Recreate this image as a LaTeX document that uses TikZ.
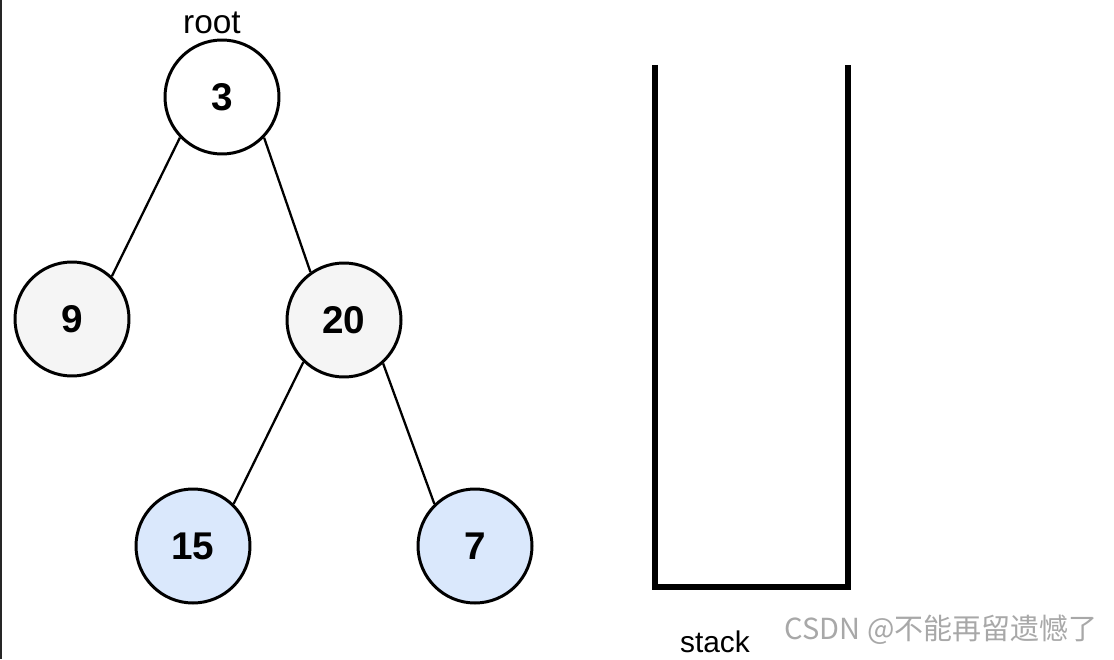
\documentclass[tikz,border=0pt]{standalone}
\usepackage{fontspec}
\setmainfont{Liberation Sans}
\newfontfamily\cjkfont{Noto Sans CJK SC}
\definecolor{leafblue}{HTML}{DAE8FC}
\definecolor{innergrey}{HTML}{F5F5F5}
\definecolor{markgrey}{HTML}{A8A8A8}
\tikzset{
	treenode/.style={circle, draw=black, line width=1.7pt, minimum size=2.28cm, inner sep=0pt, font=\fontsize{22}{26}\selectfont\bfseries},
	treeedge/.style={line width=1.3pt}
}
\begin{document}
\begin{tikzpicture}[scale=1.0]
		\useasboundingbox (0,0) rectangle (22.28,13.18);
		\fill[black!85] (0,0) rectangle (0.04,13.18);
		\node[treenode, fill=white] (n3) at (4.44,11.24) {3};
		\node[treenode, fill=innergrey] (n9) at (1.44,6.80) {9};
		\node[treenode, fill=innergrey] (n20) at (6.88,6.78) {20};
		\node[treenode, fill=leafblue] (n15) at (3.86,2.26) {15};
		\node[treenode, fill=leafblue] (n7) at (9.50,2.26) {7};
		\node[font=\fontsize{19}{22}\selectfont] (rootlabel) at (4.24,12.72) {root};
		\draw[treeedge] (n3.224) -- (n9.47);
		\draw[treeedge] (n3.316) -- (n20.125);
		\draw[treeedge] (n20.226) -- (n15.46);
		\draw[treeedge] (n20.312) -- (n7.134);
		\draw[line width=0.12cm, miter limit=10] (13.10,11.88) -- (13.10,1.44) -- (16.96,1.44) -- (16.96,11.88);
		\node[font=\fontsize{17}{20}\selectfont] (stacklabel) at (14.30,0.34) {stack};
		\node[font=\fontsize{16.5}{20}\selectfont\cjkfont, text=markgrey] (watermark) at (18.82,0.58) {CSDN @不能再留遗憾了};
	\end{tikzpicture}
\end{document}
